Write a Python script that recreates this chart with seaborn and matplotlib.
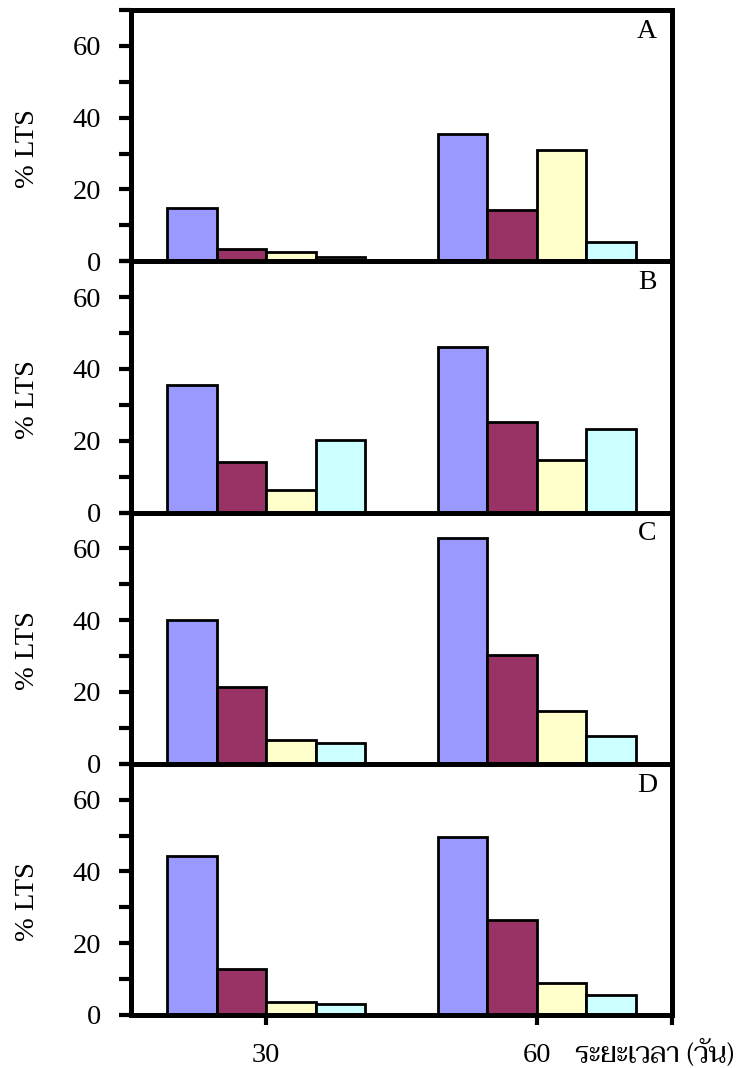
import pandas as pd
import seaborn as sns
import matplotlib.pyplot as plt
from matplotlib.ticker import MultipleLocator

# values (% LTS), order: blue, maroon, yellow, cyan
days = ['30', '60']
groups = ['T1', 'T2', 'T3', 'T4']
panels = ['A', 'B', 'C', 'D']

a_30 = [14.8, 3.4, 2.6, 1.2]
a_60 = [35.5, 14.2, 31.0, 5.4]
b_30 = [35.5, 14.2, 6.4, 20.2]
b_60 = [46.0, 25.1, 14.6, 23.4]
c_30 = [40.0, 21.5, 6.5, 5.8]
c_60 = [63.0, 30.2, 14.8, 7.8]
d_30 = [44.4, 12.8, 3.5, 3.0]
d_60 = [49.7, 26.5, 9.0, 5.7]

panel_values = {
    'A': (a_30, a_60),
    'B': (b_30, b_60),
    'C': (c_30, c_60),
    'D': (d_30, d_60),
}

colors = ['#9999FF', '#993366', '#FFFFCC', '#CCFFFF']

y_label = '% LTS'
x_label = 'ระยะเวลา (วัน)'

sns.set_theme(style='white')
plt.rcParams['font.family'] = ['Liberation Serif', 'DejaVu Serif']
thai_family = ['Taviraj', 'Noto Serif Thai', 'Liberation Serif', 'DejaVu Sans']

W, H = 746, 1068
fig = plt.figure(figsize=(W / 100, H / 100), dpi=100)

left_px, right_px = 131, 672
top_px, bottom_px = 10, 1015
panel_h = (bottom_px - top_px) / 4

for i, name in enumerate(panels):
    v30, v60 = panel_values[name]
    df = pd.DataFrame({
        'day': ['30'] * 4 + ['60'] * 4,
        'group': groups * 2,
        'pct': v30 + v60,
    })

    y_top = top_px + i * panel_h
    ax = fig.add_axes([left_px / W, 1 - (y_top + panel_h) / H,
                       (right_px - left_px) / W, panel_h / H])

    sns.barplot(data=df, x='day', y='pct', hue='group', order=days,
                hue_order=groups, palette=colors, saturation=1,
                width=0.733, edgecolor='black', linewidth=2,
                errorbar=None, legend=False, ax=ax)

    ax.set_xlim(-0.5, 1.5)
    ax.set_ylim(0, 70)
    ax.set_yticks([0, 20, 40, 60])
    ax.yaxis.set_minor_locator(MultipleLocator(10))
    ax.tick_params(axis='y', which='both', left=True, direction='out',
                   length=8.5, width=3, color='black', pad=13,
                   labelsize=20.5, labelcolor='black')

    for sp in ax.spines.values():
        sp.set_visible(True)
        sp.set_color('black')
        sp.set_linewidth(3.6)

    ax.set_ylabel(y_label, fontsize=20.5, color='black')
    ax.yaxis.set_label_coords(-0.168, 0.45)

    ax.text(0.972, 0.965, name, transform=ax.transAxes, ha='right', va='top',
            fontsize=20, color='black')

    if name == 'D':
        ax.set_xticks([0, 1, 1.5])
        ax.set_xticklabels(['30', '60', ''])
        ax.tick_params(axis='x', bottom=True, direction='out', length=7.5,
                       width=3, color='black', pad=13, labelsize=20.5,
                       labelcolor='black')
        ax.set_xlabel(x_label, fontsize=20, color='black', family=thai_family)
        ax.xaxis.label.set_ha('left')
        ax.xaxis.label.set_va('center')
        ax.xaxis.set_label_coords(0.82, -0.152)
    else:
        ax.set_xticks([])
        ax.set_xlabel('')

fig.savefig('out.png', dpi=100)
